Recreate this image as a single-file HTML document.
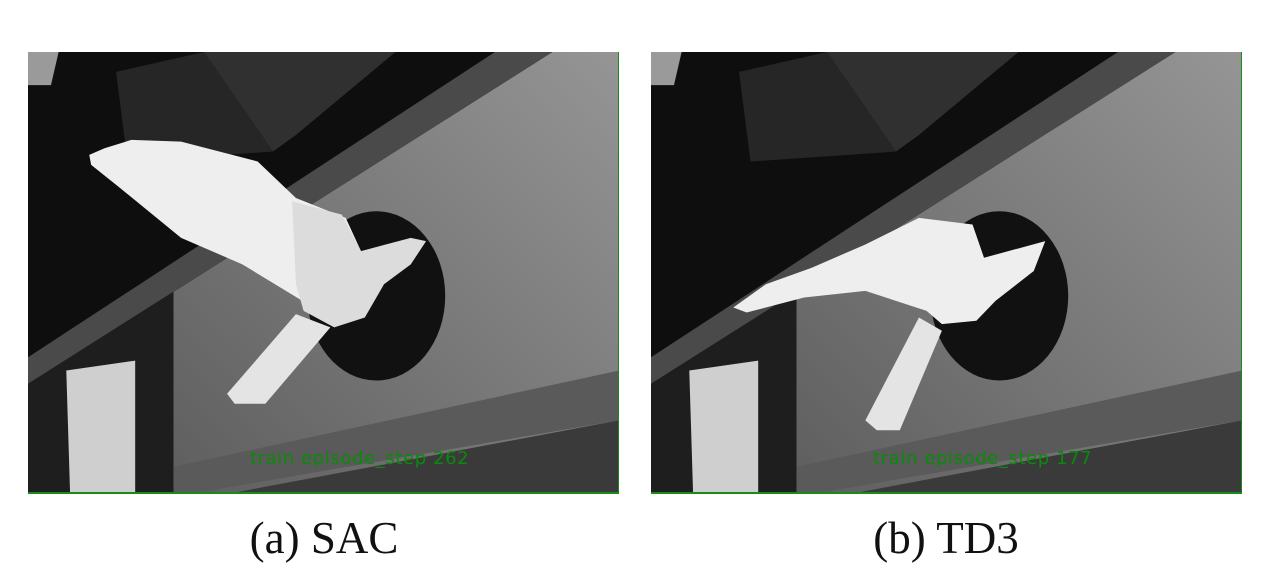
<!DOCTYPE html>
<html><head><meta charset="utf-8"><style>
body{margin:0;width:1272px;height:575px;background:#fff;position:relative;overflow:hidden;font-family:"Liberation Serif",serif}
.panel{position:absolute;top:52px;width:591px;height:442px;border-right:1px solid #1a8a1a;border-bottom:2px solid #1a8a1a;box-sizing:border-box;overflow:hidden}
.panel svg{position:absolute;left:0;top:0;width:591px;height:442px}
.step{position:absolute;left:222px;top:396px;font-family:"DejaVu Sans","Liberation Sans",sans-serif;font-size:18px;color:#0a8a0a;letter-spacing:0.6px;white-space:nowrap}
.cap{position:absolute;top:512px;font-size:45px;color:#111;width:300px;text-align:center}
</style></head><body>
<svg width="0" height="0" style="position:absolute"><defs>
<linearGradient id="wallg" x1="0" y1="1" x2="1" y2="0"><stop offset="0" stop-color="#5e5e5e"/><stop offset="1" stop-color="#959595"/></linearGradient>
<g id="scene">
<rect x="0" y="0" width="1544" height="1332" fill="#0e0e0e"/>
<polygon points="0,0 80,0 60,100 0,100" fill="#9a9a9a"/>
<polygon points="230,60 460,0 640,300 260,330" fill="#262626"/>
<polygon points="460,0 960,0 700,250 640,300" fill="#303030"/>
<polygon points="1370,0 1544,0 1544,1332 380,1332 380,723" fill="url(#wallg)"/>
<polygon points="1220,0 1370,0 0,1000 0,920" fill="#4a4a4a"/>
<polygon points="0,1000 380,723 380,1332 0,1332" fill="#1e1e1e"/>
<polygon points="100,960 280,930 280,1332 110,1332" fill="#cfcfcf"/>
<polygon points="380,1250 1544,960 1544,1110 420,1332 380,1332" fill="#5a5a5a"/>
<polygon points="1544,1110 1544,1332 520,1332" fill="#3a3a3a"/>
<ellipse cx="910" cy="735" rx="180" ry="255" fill="#111"/>
</g></defs></svg>

<div class="panel" style="left:28px">
<svg viewBox="0 0 1544 1332" preserveAspectRatio="none">
<use href="#scene"/>
<polygon points="160,310 200,290 270,265 400,270 600,330 700,440 830,500 870,600 880,700 760,780 560,640 400,560 230,400 165,340" fill="#eeeeee"/>
<polygon points="690,450 820,490 870,600 1000,560 1040,570 1000,640 930,700 880,800 800,830 720,780 700,700" fill="#dcdcdc"/>
<polygon points="520,1030 540,1060 620,1060 790,830 700,790" fill="#e4e4e4"/>
</svg>
<div class="step">train episode_step 262</div>
</div>

<div class="panel" style="left:651px">
<svg viewBox="0 0 1544 1332" preserveAspectRatio="none">
<use href="#scene"/>
<polygon points="215,770 300,700 420,650 560,580 700,500 840,520 870,620 1030,570 1000,660 900,750 850,810 760,820 720,780 560,720 400,740 250,785" fill="#eeeeee"/>
<polygon points="560,1110 590,1140 650,1140 760,840 700,800" fill="#e4e4e4"/>
</svg>
<div class="step">train episode_step 177</div>
</div>

<div class="cap" style="left:174px">(a) SAC</div>
<div class="cap" style="left:796px">(b) TD3</div>
</body></html>
